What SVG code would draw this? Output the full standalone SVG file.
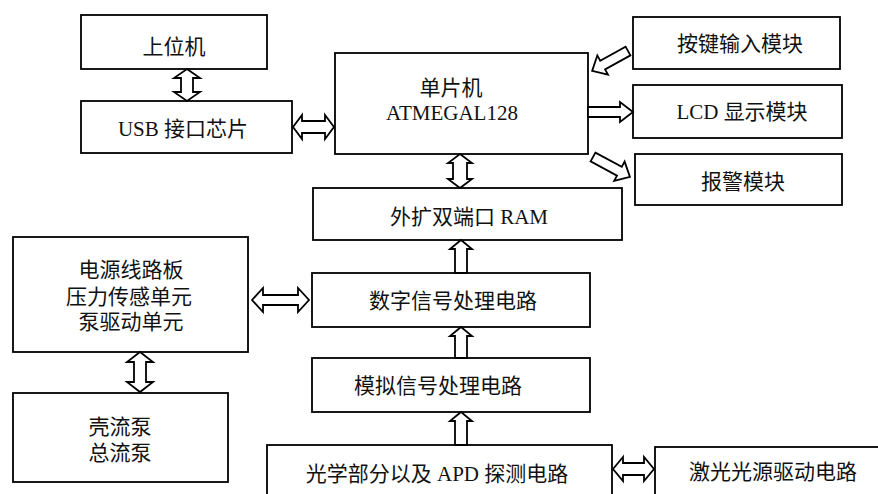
<svg xmlns="http://www.w3.org/2000/svg" width="878" height="494" viewBox="0 0 878 494">
<style>
.box{fill:#fff;stroke:#000;stroke-width:1.8}
.arr{fill:#fff;stroke:#000;stroke-width:1.8;stroke-linejoin:miter}
text{font-family:"Liberation Serif","Noto Sans CJK SC",serif;font-size:21px;fill:#111;text-anchor:middle}
</style>
<rect width="878" height="494" fill="#fff"/>
<g id="n-host"><rect class="box" x="81" y="15" width="186" height="54"/><text x="174" y="54">上位机</text></g>
<g id="n-usb"><rect class="box" x="81" y="101" width="211" height="52"/><text x="183" y="136">USB 接口芯片</text></g>
<g id="n-mcu"><rect class="box" x="335" y="53" width="253" height="101"/><text x="451" y="95">单片机</text><text x="452" y="120">ATMEGAL128</text></g>
<g id="n-key"><rect class="box" x="633" y="17" width="207" height="52"/><text x="740" y="51">按键输入模块</text></g>
<g id="n-lcd"><rect class="box" x="633" y="85" width="209" height="53"/><text x="742" y="119">LCD 显示模块</text></g>
<g id="n-alarm"><rect class="box" x="635" y="154" width="207" height="51"/><text x="743" y="189">报警模块</text></g>
<g id="n-ram"><rect class="box" x="313" y="188" width="309" height="52"/><text x="469" y="224">外扩双端口 RAM</text></g>
<g id="n-power"><rect class="box" x="13" y="237" width="235" height="115"/><text x="131" y="277">电源线路板</text><text x="129" y="304">压力传感单元</text><text x="131" y="329">泵驱动单元</text></g>
<g id="n-pump"><rect class="box" x="13" y="393" width="215" height="89"/><text x="120" y="434">壳流泵</text><text x="120" y="460">总流泵</text></g>
<g id="n-dsp"><rect class="box" x="312" y="273" width="278" height="54"/><text x="453" y="308">数字信号处理电路</text></g>
<g id="n-asp"><rect class="box" x="312" y="358" width="278" height="54"/><text x="438" y="393">模拟信号处理电路</text></g>
<g id="n-opt"><rect class="box" x="267" y="445" width="345" height="60"/><text x="437" y="481">光学部分以及 APD 探测电路</text></g>
<g id="n-laser"><rect class="box" x="655" y="447" width="240" height="60"/><text x="773" y="479">激光光源驱动电路</text></g>
<g id="connectors">
<path class="arr" d="M187,69 L200,78 L193,78 L193,92 L200,92 L187,101 L174,92 L181,92 L181,78 L174,78 Z"/>
<path class="arr" d="M293,127 L302,115 L302,121 L325,121 L325,115 L334,127 L325,139 L325,133 L302,133 L302,139 Z"/>
<path class="arr" d="M460,154 L472,163 L467,163 L467,179 L472,179 L460,188 L448,179 L453,179 L453,163 L448,163 Z"/>
<path class="arr" d="M461,240 L472,249 L467,249 L467,273 L455,273 L455,249 L450,249 Z"/>
<path class="arr" d="M461,327 L472,336 L467,336 L467,358 L455,358 L455,336 L450,336 Z"/>
<path class="arr" d="M461,412 L472,421 L467,421 L467,445 L455,445 L455,421 L450,421 Z"/>
<path class="arr" d="M252,300 L263,288 L263,295 L298,295 L298,288 L309,300 L298,312 L298,305 L263,305 L263,312 Z"/>
<path class="arr" d="M140,352 L153,362 L146,362 L146,382 L153,382 L140,392 L127,382 L134,382 L134,362 L127,362 Z"/>
<path class="arr" d="M613,469 L623,457 L623,463 L644,463 L644,457 L654,469 L644,481 L644,475 L623,475 L623,481 Z"/>
<path class="arr" transform="translate(628,51) rotate(151)" d="M0,-5 L29,-5 L29,-11 L41,0 L29,11 L29,5 L0,5 Z"/>
<path class="arr" d="M588,107 L620,107 L620,102 L633,112 L620,122 L620,117 L588,117 Z"/>
<path class="arr" transform="translate(593,157) rotate(28.4)" d="M0,-5 L30,-5 L30,-11 L42,0 L30,11 L30,5 L0,5 Z"/>
</g>
</svg>
